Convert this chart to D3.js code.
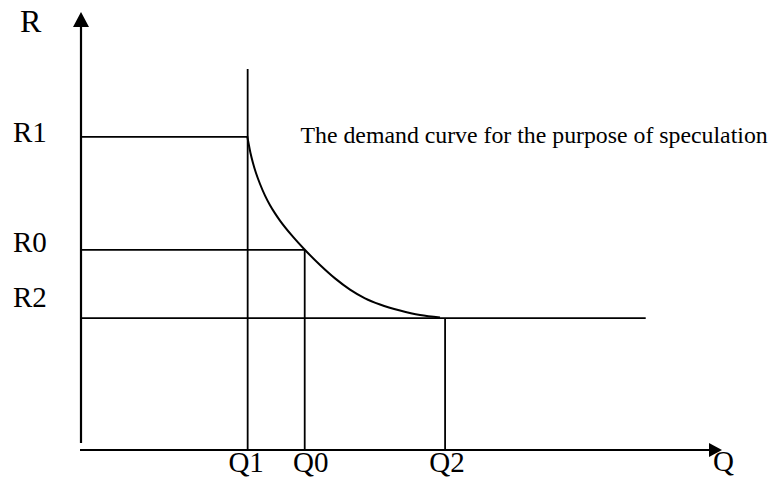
<!DOCTYPE html>
<html>
<head>
<meta charset="utf-8">
<script src="https://cdn.jsdelivr.net/npm/d3@7"></script>
<style>
  html, body { margin: 0; padding: 0; background: #fff; }
  svg { display: block; }
  text { font-family: "Liberation Serif", "Times New Roman", serif; fill: #000; }
</style>
</head>
<body>
<svg id="chart" width="772" height="481"></svg>
<script>
// Interest rate levels (R) and the money held for speculation (Q)
const rNames = ["R1", "R0", "R2"];
const rValues = [71.5, 45.7, 30.1];
const qNames = ["Q1", "Q0", "Q2"];
const qValues = [26.0, 34.9, 56.8];

// Speculative demand curve: quantity demanded at each interest rate
const curveQ = [25.93, 26.13, 26.44, 26.83, 27.30, 27.93, 28.71, 29.49, 30.27, 31.04,
                32.92, 34.95, 37.29, 39.63, 41.97, 44.31, 46.65, 49.77, 52.89, 56.01];
const curveR = [71.69, 70.09, 67.81, 65.53, 63.24, 60.73, 58.08, 55.89, 54.02, 52.37,
                48.93, 45.66, 42.24, 39.18, 36.62, 34.63, 33.22, 31.83, 30.80, 30.27];

// Extent of the flat (liquidity trap) part at R2 and of the Q1 guide line
const trapEndQ = 88.1;
const q1GuideTopR = 87.0;

const axisNames = { r: "R", q: "Q" };
const caption = "The demand curve for the purpose of speculation";

const svg = d3.select("#chart");
const x = d3.scaleLinear().domain([0, 100]).range([81, 722]);
const y = d3.scaleLinear().domain([0, 100]).range([450, 12]);

const ink = "#000";

// ----- axes with arrow heads -----
const axes = svg.append("g");
axes.append("line")
  .attr("x1", x(0)).attr("x2", x(0))
  .attr("y1", y(0) - 7).attr("y2", y(100) + 14)
  .attr("stroke", ink).attr("stroke-width", 2.2);
axes.append("path")
  .attr("d", `M${x(0)},${y(100)} L${x(0) - 8},${y(100) + 15} L${x(0) + 8},${y(100) + 15} Z`)
  .attr("fill", ink);

axes.append("line")
  .attr("x1", x(0) - 1).attr("x2", x(100) - 12)
  .attr("y1", y(0)).attr("y2", y(0))
  .attr("stroke", ink).attr("stroke-width", 2.2);
axes.append("path")
  .attr("d", `M${x(100)},${y(0)} L${x(100) - 13},${y(0) - 7} L${x(100) - 13},${y(0) + 7} Z`)
  .attr("fill", ink);

// ----- guide lines -----
const guides = svg.append("g").attr("stroke", ink).attr("stroke-width", 1.8);
const hEnds = [qValues[0], qValues[1], trapEndQ];
rValues.forEach((r, i) => {
  guides.append("line")
    .attr("x1", x(0)).attr("x2", x(hEnds[i]))
    .attr("y1", y(r)).attr("y2", y(r));
});
const vTops = [q1GuideTopR, rValues[1], rValues[2]];
qValues.forEach((q, i) => {
  guides.append("line")
    .attr("x1", x(q)).attr("x2", x(q))
    .attr("y1", y(vTops[i])).attr("y2", y(0));
});

// ----- demand curve -----
const pts = curveQ.map((q, i) => [q, curveR[i]]);
const line = d3.line()
  .x(d => x(d[0]))
  .y(d => y(d[1]))
  .curve(d3.curveMonotoneX);
svg.append("path")
  .attr("d", line(pts))
  .attr("fill", "none")
  .attr("stroke", ink)
  .attr("stroke-width", 2);

// ----- labels -----
svg.append("text")
  .attr("x", 20).attr("y", 32)
  .attr("font-size", 32)
  .text(axisNames.r);

const rLabelDy = [5, 2.5, -11.5];
rNames.forEach((name, i) => {
  svg.append("text")
    .attr("x", 13).attr("y", y(rValues[i]) + rLabelDy[i])
    .attr("font-size", 29)
    .text(name);
});

const qLabelDx = [-1.5, 6, 2];
qNames.forEach((name, i) => {
  svg.append("text")
    .attr("x", x(qValues[i]) + qLabelDx[i]).attr("y", 472)
    .attr("text-anchor", "middle")
    .attr("font-size", 29)
    .text(name);
});

svg.append("text")
  .attr("x", 713).attr("y", 471)
  .attr("font-size", 29)
  .text(axisNames.q);

svg.append("text")
  .attr("x", 300.5).attr("y", 142.5)
  .attr("font-size", 23.8)
  .text(caption);
</script>
</body>
</html>
